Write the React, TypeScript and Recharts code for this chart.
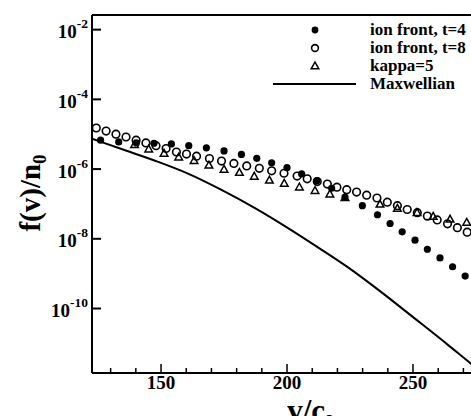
import { ComposedChart, Scatter, Line, XAxis, YAxis, ReferenceLine } from 'recharts';

const FONT = 'Liberation Serif, Times New Roman, serif';

// ion front, t=4.. (filled circles)
const t4V = [126.0, 133.2, 140.2, 147.2, 154.1, 161.0, 168.0, 175.0, 181.9, 188.0, 193.9, 200.0, 205.8, 211.8, 217.7, 223.0, 229.9, 235.9, 240.9, 245.7, 250.8, 255.7, 260.7, 265.7, 270.7];
const t4F = [6.76e-6, 6.03e-6, 5.62e-6, 5.5e-6, 5.25e-6, 4.68e-6, 4.07e-6, 3.31e-6, 2.63e-6, 2.04e-6, 1.51e-6, 1.1e-6, 7.24e-7, 4.57e-7, 2.82e-7, 1.58e-7, 8.91e-8, 4.9e-8, 2.75e-8, 1.58e-8, 9.12e-9, 5.01e-9, 2.82e-9, 1.58e-9, 8.51e-10];

// ion front, t=8.. (open circles)
const t8V = [124.3, 128.2, 132.1, 136.1, 140.1, 144.0, 148.0, 152.0, 156.1, 160.1, 164.1, 169.2, 174.0, 178.9, 184.0, 189.0, 193.9, 198.8, 204.0, 208.0, 212.0, 216.0, 219.8, 223.7, 227.6, 231.6, 235.7, 239.8, 243.8, 247.7, 251.7, 255.7, 259.6, 263.7, 267.6, 271.5];
const t8F = [1.51e-5, 1.23e-5, 1.0e-5, 8.32e-6, 6.76e-6, 5.62e-6, 4.68e-6, 3.89e-6, 3.09e-6, 2.69e-6, 2.34e-6, 2.0e-6, 1.7e-6, 1.45e-6, 1.23e-6, 1.05e-6, 8.91e-7, 7.59e-7, 6.31e-7, 5.25e-7, 4.37e-7, 3.72e-7, 3.02e-7, 2.57e-7, 2.19e-7, 1.78e-7, 1.48e-7, 1.12e-7, 8.91e-8, 6.92e-8, 5.62e-8, 4.47e-8, 3.47e-8, 2.69e-8, 2.09e-8, 1.55e-8];

// kappa=5 (triangles)
const kappaV = [139.5, 145.1, 151.2, 157.0, 163.1, 169.0, 175.0, 181.1, 187.0, 193.0, 198.9, 204.9, 211.1, 217.0, 223.0, 236.9, 243.8, 251.6, 258.0, 264.7, 271.3];
const kappaF = [5.01e-6, 3.72e-6, 2.82e-6, 2.19e-6, 1.74e-6, 1.29e-6, 9.77e-7, 7.94e-7, 6.17e-7, 4.79e-7, 3.89e-7, 3.02e-7, 2.4e-7, 1.91e-7, 1.51e-7, 9.77e-8, 7.41e-8, 5.62e-8, 4.37e-8, 3.63e-8, 2.95e-8];

// Maxwellian (solid line)
const maxwV = [122.6, 134.9, 147.6, 160.7, 173.8, 187.3, 200.4, 210.3, 223.8, 236.9, 250.0, 263.5, 273.0, 284.5];
const maxwF = [7.4e-6, 3.63e-6, 1.74e-6, 7.41e-7, 2.57e-7, 7.59e-8, 2.03e-8, 7.05e-9, 1.59e-9, 3.15e-10, 5.66e-11, 9.53e-12, 2.62e-12, 5.89e-13];

const xTicks = [130, 140, 150, 160, 170, 180, 190, 200, 210, 220, 230, 240, 250, 260, 270, 280, 290];
const yTicks = [1e-10, 1e-8, 1e-6, 1e-4, 1e-2];
const xDomain = [122.6, 300];
const yDomain = [Math.pow(10, -11.85), Math.pow(10, -1.58)];

const zip = (vs: number[], fs: number[]) => vs.map((v, i) => ({ v, f: fs[i] }));
const t4Data = zip(t4V, t4F);
const t8Data = zip(t8V, t8F);
const kappaData = zip(kappaV, kappaF);
const maxwData = zip(maxwV, maxwF);

const triPath = (cx: number, cy: number) =>
  `M${cx},${cy - 4} L${cx + 3.8},${cy + 2.8} L${cx - 3.8},${cy + 2.8} Z`;

const FilledDot = (p: any) => <circle cx={p.cx} cy={p.cy} r={3.6} fill="#000" />;
const OpenDot = (p: any) => (
  <circle cx={p.cx} cy={p.cy} r={3.8} fill="none" stroke="#000" strokeWidth={1.6} />
);
const Tri = (p: any) => (
  <path d={triPath(p.cx, p.cy)} fill="none" stroke="#000" strokeWidth={1.5} />
);

const XTick = ({ x, y, payload }: any) => {
  const major = payload.value % 50 === 0;
  return (
    <g>
      <line x1={x} x2={x} y1={y} y2={y - (major ? 9 : 5)} stroke="#000" strokeWidth={1.5} />
      {major && (
        <text x={x} y={y + 16} textAnchor="middle" fontFamily={FONT} fontWeight="bold" fontSize={19} fill="#000">
          {payload.value}
        </text>
      )}
    </g>
  );
};

const YTick = ({ x, y, payload }: any) => {
  const exp = Math.round(Math.log10(payload.value));
  return (
    <g>
      <line x1={x} x2={x + 9} y1={y} y2={y} stroke="#000" strokeWidth={2} />
      <text x={x - 4} y={y + 8.5} textAnchor="end" fontFamily={FONT} fontWeight="bold" fontSize={19} fill="#000">
        10<tspan dy={-10} fontSize={13.5}>{`-${Math.abs(exp)}`}</tspan>
      </text>
    </g>
  );
};

const legendRows = [
  { label: 'ion front, t=4', kind: 'filled', y: 35 },
  { label: 'ion front, t=8', kind: 'open', y: 53 },
  { label: 'kappa=5', kind: 'tri', y: 71 },
  { label: 'Maxwellian', kind: 'line', y: 89 },
];

function LegendBox() {
  return (
    <svg width={539} height={110} style={{ position: 'absolute', left: 0, top: 0 }}>
      {legendRows.map((r) => {
        const cy = r.y - 5;
        return (
          <g key={r.label}>
            {r.kind === 'filled' && <circle cx={315} cy={cy} r={3.4} fill="#000" />}
            {r.kind === 'open' && <circle cx={315} cy={cy} r={3.4} fill="none" stroke="#000" strokeWidth={1.6} />}
            {r.kind === 'tri' && <path d={triPath(315, cy)} fill="none" stroke="#000" strokeWidth={1.5} />}
            {r.kind === 'line' && <line x1={273} x2={356} y1={cy} y2={cy} stroke="#000" strokeWidth={2} />}
            <text x={370} y={r.y} fontFamily={FONT} fontWeight="bold" fontSize={17} fill="#000">
              {r.label}
            </text>
          </g>
        );
      })}
    </svg>
  );
}

export default function App() {
  return (
    <div style={{ position: 'absolute', left: 0, top: 0, width: 471, height: 416, overflow: 'hidden', background: '#fff' }}>
      <ComposedChart width={539} height={416} margin={{ top: 15, right: 0, bottom: 0, left: 0 }}>
        <XAxis
          dataKey="v"
          type="number"
          domain={xDomain}
          allowDataOverflow
          ticks={xTicks}
          tick={<XTick />}
          tickLine={false}
          tickSize={0}
          tickMargin={0}
          height={43}
          axisLine={{ stroke: '#000', strokeWidth: 2 }}
          interval={0}
        />
        <YAxis
          dataKey="f"
          type="number"
          scale="log"
          domain={yDomain}
          allowDataOverflow
          ticks={yTicks}
          tick={<YTick />}
          tickLine={false}
          tickSize={0}
          tickMargin={0}
          width={92}
          axisLine={{ stroke: '#000', strokeWidth: 2 }}
          interval={0}
        />
        <ReferenceLine y={yDomain[1]} stroke="#000" strokeWidth={2} />
        <Line data={maxwData} dataKey="f" type="monotone" stroke="#000" strokeWidth={2} dot={false} isAnimationActive={false} />
        <Scatter data={kappaData} dataKey="f" shape={Tri} isAnimationActive={false} />
        <Scatter data={t8Data} dataKey="f" shape={OpenDot} isAnimationActive={false} />
        <Scatter data={t4Data} dataKey="f" shape={FilledDot} isAnimationActive={false} />
      </ComposedChart>
      <LegendBox />
      <svg width={539} height={416} style={{ position: 'absolute', left: 0, top: 0, pointerEvents: 'none' }}>
        <text transform="translate(40,193) rotate(-90)" textAnchor="middle" fontFamily={FONT} fontWeight="bold" fontSize={29} fill="#000">
          f(v)/n<tspan dy={6} fontSize={19}>0</tspan>
        </text>
        <text x={310} y={421} textAnchor="middle" fontFamily={FONT} fontWeight="bold" fontSize={31} fill="#000">
          v/c<tspan dy={4} fontSize={20}>s</tspan>
        </text>
      </svg>
    </div>
  );
}
